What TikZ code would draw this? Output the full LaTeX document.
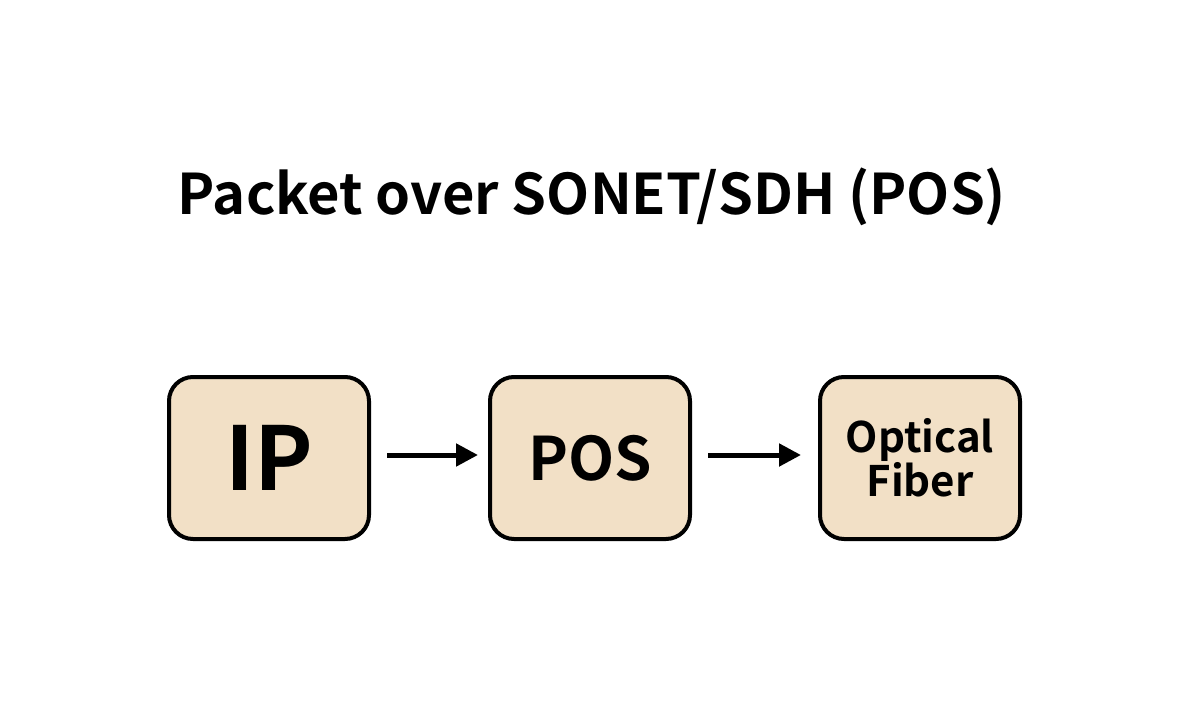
\documentclass[tikz,border=0pt]{standalone}
\usepackage{fontspec}
\setmainfont{Noto Sans CJK SC}[BoldFont={* Bold}]
\usetikzlibrary{arrows.meta}
\definecolor{boxfill}{HTML}{F2E0C6}
\tikzset{x=1pt,y=-1pt,
 blk/.style={draw=black,line width=4pt,fill=boxfill,rounded corners=24pt,minimum width=200pt,minimum height=162pt,inner sep=0pt,align=center,font=\bfseries},
 conn/.style={line width=5pt,-{Triangle[length=22pt,width=22pt]}}}
\begin{document}
\begin{tikzpicture}
\useasboundingbox (0,0) rectangle (1200,712);
\node[font=\bfseries\fontsize{56}{60}\selectfont] (title) at (592,197) {Packet over SONET/SDH (POS)};
\node[blk,font=\bfseries\fontsize{88}{90}\selectfont] (ip) at (269,458) {IP};
\node[blk,font=\bfseries\fontsize{60}{62}\selectfont] (pos) at (590,458) {POS};
\node[blk,font=\bfseries\fontsize{42}{42}\selectfont] (of) at (920,458) {Optical\\Fiber};
\draw[conn] ([xshift=16pt]ip.east|-0,455) -- ([xshift=-10pt]pos.west|-0,455);
\draw[conn] ([xshift=16pt]pos.east|-0,455) -- ([xshift=-17pt]of.west|-0,455);
\end{tikzpicture}
\end{document}
